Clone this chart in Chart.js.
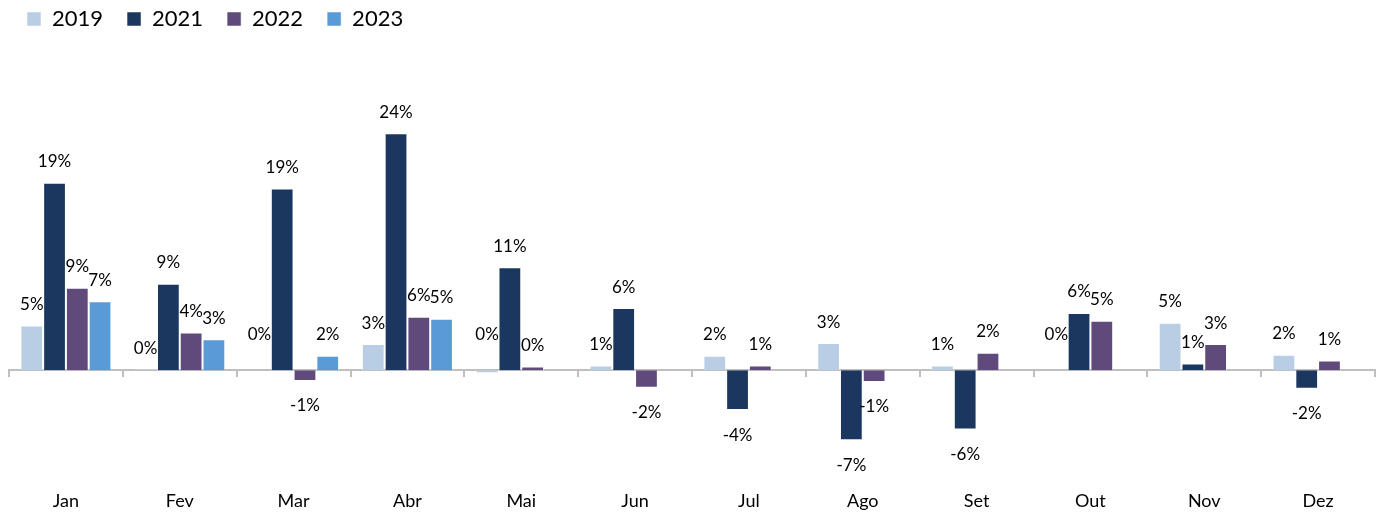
<!DOCTYPE html>
<html>
<head>
<meta charset="utf-8">
<script src="https://cdn.jsdelivr.net/npm/chart.js@4.4.0/dist/chart.umd.min.js"></script>
<style>
  html, body { margin: 0; padding: 0; background: #fff; }
  #wrap { width: 1384px; height: 515px; }
</style>
</head>
<body>
<div id="wrap"><canvas id="myChart"></canvas></div>
<script>
// --- Data ---
const months = ['Jan', 'Fev', 'Mar', 'Abr', 'Mai', 'Jun', 'Jul', 'Ago', 'Set', 'Out', 'Nov', 'Dez'];
const years = ['2019', '2021', '2022', '2023'];
const values2019 = [4.6, 0.1, 0, 2.7, -0.3, 0.5, 1.5, 2.8, 0.5, 0, 4.9, 1.6];
const values2021 = [19.3, 8.9, 18.7, 24.4, 10.6, 6.4, -4.1, -7.2, -6.1, 5.9, 0.7, -1.9];
const values2022 = [8.5, 3.9, -1.1, 5.5, 0.4, -1.8, 0.5, -1.2, 1.8, 5.1, 2.7, 1.0];
const values2023 = [7.1, 3.2, 1.5, 5.3, null, null, null, null, null, null, null, null];
const colors = ['#b9cde5', '#1b375f', '#604a7b', '#5b9bd5'];

// --- Value labels above / below bars ---
const valueLabels = {
    id: 'valueLabels',
    afterDatasetsDraw(chart) {
        const ctx = chart.ctx;
        const zeroY = chart.scales.y.getPixelForValue(0);
        ctx.save();
        ctx.font = '17px Lato';
        ctx.fillStyle = '#000';
        ctx.textAlign = 'center';
        ctx.textBaseline = 'middle';
        chart.data.datasets.forEach((ds, i) => {
            const meta = chart.getDatasetMeta(i);
            meta.data.forEach((bar, j) => {
                const v = ds.data[j];
                if (v === null) return;
                const text = Math.round(v) + '%';
                let y;
                if (v > 0) y = bar.y - 21;
                else if (v <= -0.5) y = bar.y + 25;
                else y = zeroY - 36;   // zero / near-zero values sit higher
                ctx.fillText(text, bar.x, y);
            });
        });
        ctx.restore();
    }
};

const ctx = document.getElementById('myChart').getContext('2d');
new Chart(ctx, {
    type: 'bar',
    data: {
        labels: months,
        datasets: [values2019, values2021, values2022, values2023].map((d, i) => ({
            label: years[i],
            data: d,
            backgroundColor: colors[i],
            borderColor: 'rgba(255,255,255,0.5)',
            borderWidth: 1,
            categoryPercentage: 0.8,
            barPercentage: 1.0
        }))
    },
    options: {
        responsive: true,
        maintainAspectRatio: false,
        animation: false,
        layout: { padding: { top: -16, left: 3, right: 9, bottom: -20 } },
        plugins: {
            legend: {
                position: 'top',
                align: 'start',
                labels: {
                    font: { family: 'Lato', size: 22 },
                    color: '#000',
                    boxWidth: 14,
                    boxHeight: 14,
                    padding: 24
                }
            },
            tooltip: { enabled: false }
        },
        scales: {
            // axis line at zero with tick marks between months
            x: {
                position: { y: 0 },
                offset: true,
                ticks: { display: false },
                grid: {
                    offset: true,
                    drawOnChartArea: false,
                    tickLength: 6,
                    color: '#bfbfbf',
                    lineWidth: 2
                },
                border: { color: '#bfbfbf', width: 2 }
            },
            // month names along the bottom
            x2: {
                type: 'category',
                labels: months,
                position: 'bottom',
                offset: true,
                grid: { display: false, drawTicks: false },
                border: { display: false },
                ticks: {
                    font: { family: 'Lato', size: 18 },
                    color: '#000',
                    padding: 23
                }
            },
            y: {
                min: -10,
                max: 34,
                ticks: { display: false },
                grid: { display: false, drawTicks: false },
                border: { display: false },
                afterFit(scale) { scale.width = 6; }
            }
        }
    },
    plugins: [valueLabels]
});
</script>
</body>
</html>
